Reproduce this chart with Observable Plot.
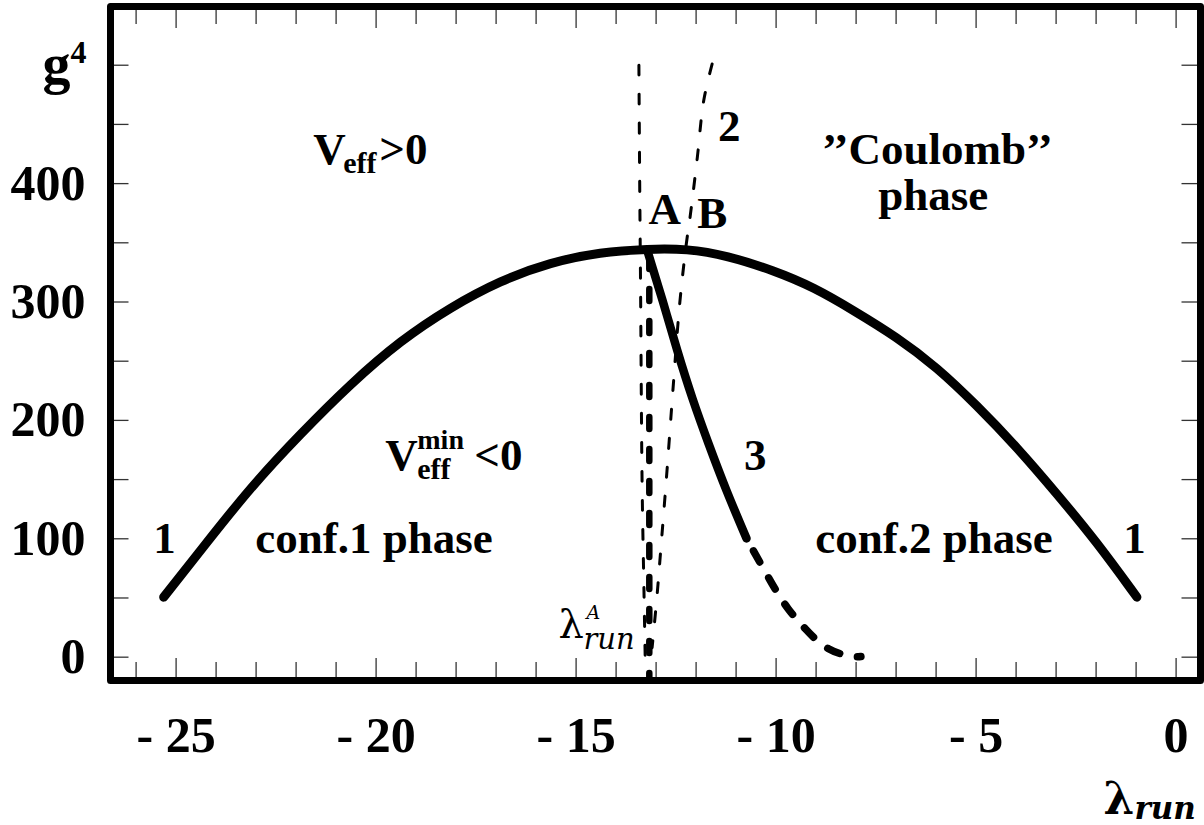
<!DOCTYPE html>
<html><head><meta charset="utf-8">
<script src="https://cdn.jsdelivr.net/npm/d3@7"></script>
<script src="https://cdn.jsdelivr.net/npm/@observablehq/plot@0.6"></script>
<style>
html,body{margin:0;padding:0;background:#fff;}
#chart svg{display:block;}
</style></head><body><div id="chart"></div>
<script>
// ---- data ----
// Curve 1: solid boundary (parabola-like)
const curve1X = [-25.31, -24.39, -23.14, -21.89, -20.64, -19.39, -18.14, -16.89, -15.64, -14.39, -13.19, -12.23, -11.23, -10.06, -9.06, -8.06, -6.98, -5.98, -4.98, -3.98, -2.98, -1.98, -0.98];
const curve1Y = [50.7, 90.1, 143.6, 188.7, 230.9, 267.5, 295.6, 318.2, 333.6, 342.1, 344.9, 345.0, 339.3, 326.6, 312.5, 292.8, 270.3, 244.9, 212.6, 177.4, 138.0, 97.1, 50.7];
// Curve 3: solid part and dashed continuation
const curve3X = [-13.22, -12.84, -12.47, -12.09, -11.69, -11.24, -10.74];
const curve3Y = [343.5, 301.4, 259.0, 218.5, 180.5, 140.8, 100.3];
const curve3dX = [-10.74, -10.10, -9.70, -9.27, -8.69, -8.10, -7.88];
const curve3dY = [100.3, 62.0, 41.0, 24.0, 7.1, 0.8, 0.5];
// Curve 2: thin dashed
const curve2X = [-11.60, -11.81, -11.97, -12.14, -12.25, -12.41, -12.58, -12.74, -12.89, -12.98, -13.10];
const curve2Y = [501, 470, 422, 374.5, 347.7, 298.5, 225.3, 152, 88, 50.7, 8];
// thin dashed near-vertical line through A
const lineAX = [-13.43, -13.41, -13.39, -13.35, -13.30, -13.27];
const lineAY = [500, 400, 320, 147, 50, -5];
// thick dashed vertical line lambda_run^A
const lamAX = [-13.17, -13.17];
const lamAY = [338, -19];

// ticks
const xMajor = [-25, -20, -15, -10, -5, 0];
const xTickLabels = ["- 25", "- 20", "- 15", "- 10", "- 5", "0"];
const xMinor = [-26, -24, -23, -22, -21, -19, -18, -17, -16, -14, -13, -12, -11, -9, -8, -7, -6, -4, -3, -2, -1];
const yTicks = [0, 50, 100, 150, 200, 250, 300, 350, 400, 450, 500];
const yLabelTicks = [0, 100, 200, 300, 400];

// in-plot annotations
const labelText   = ["1", "conf.1 phase", "conf.2 phase", "1", "3", "2", "A", "B", "’’Coulomb’’", "phase"];
const labelX      = [-25.29, -23.02, -9.02, -1.04, -10.52, -11.17, -13.19, -11.97, -5.97, -6.07];
const labelY      = [87.6, 87.6, 87.6, 87.6, 157.7, 436.4, 366.3, 362.1, 416.9, 377.3];
const labelAnchor = ["middle", "start", "start", "middle", "middle", "middle", "start", "start", "middle", "middle"];

const veffPos = {x: -21.57, y: 416.9};
const veffMinPos = {x: -19.77, y: 157.7};
const lamLabelPos = {x: -15.44, y: 16.6};

// ---- drawing ----
const W = 1204, H = 825, mL = 110, mR = 4, mT = 6, mB = 145;
const innerW = W - mL - mR, innerH = H - mT - mB;
const serif = "'Liberation Serif','Times New Roman',Times,serif";
const math = "'DejaVu Serif',serif";
const tickColor = "#333";
const pts = (xs, ys) => xs.map((x, i) => ({x, y: ys[i]}));
const labels = labelText.map((t, i) => ({t, x: labelX[i], y: labelY[i], a: labelAnchor[i]}));

function part(pos, txt, dx, dy, size, extra = {}) {
  return Plot.text([{...pos, t: txt}], {x: "x", y: "y", text: "t", dx, dy, fontSize: size,
    fontFamily: serif, fontWeight: "bold", textAnchor: "start", lineAnchor: "bottom", fill: "black", ...extra});
}
function framePart(anchor, txt, dx, dy, size, extra = {}) {
  return Plot.text([txt], {frameAnchor: anchor, dx, dy, fontSize: size, fontFamily: serif,
    fontWeight: "bold", textAnchor: "start", lineAnchor: "bottom", fill: "black", ...extra});
}

const plot = Plot.plot({
  width: W, height: H,
  marginLeft: mL, marginRight: mR, marginTop: mT, marginBottom: mB,
  x: {domain: [-26.64, 0.61]},
  y: {domain: [-19.7, 549.6]},
  style: {background: "white", overflow: "visible"},
  marks: [
    // inward ticks on the four sides
    Plot.ruleX(xMinor, {stroke: tickColor, strokeWidth: 1.3, insetTop: innerH - 18}),
    Plot.ruleX(xMajor, {stroke: tickColor, strokeWidth: 1.3, insetTop: innerH - 22}),
    Plot.ruleX(xMinor, {stroke: tickColor, strokeWidth: 1.3, insetBottom: innerH - 18}),
    Plot.ruleX(xMajor, {stroke: tickColor, strokeWidth: 1.3, insetBottom: innerH - 22}),
    Plot.ruleY(yTicks, {stroke: tickColor, strokeWidth: 1.3, insetRight: innerW - 18.5}),
    Plot.ruleY(yTicks, {stroke: tickColor, strokeWidth: 1.3, insetLeft: innerW - 18.5}),
    // curves
    Plot.line(pts(lineAX, lineAY), {x: "x", y: "y", curve: "catmull-rom", stroke: "black", strokeWidth: 3, strokeDasharray: "10,19", strokeLinecap: "round"}),
    Plot.line(pts(curve2X, curve2Y), {x: "x", y: "y", curve: "catmull-rom", stroke: "black", strokeWidth: 3, strokeDasharray: "10,19", strokeLinecap: "round"}),
    Plot.line(pts(lamAX, lamAY), {x: "x", y: "y", stroke: "black", strokeWidth: 6.5, strokeDasharray: "12,20", strokeLinecap: "round"}),
    Plot.line(pts(curve1X, curve1Y), {x: "x", y: "y", curve: "basis", stroke: "black", strokeWidth: 9, strokeLinecap: "round", strokeLinejoin: "round"}),
    Plot.line(pts(curve3X, curve3Y), {x: "x", y: "y", curve: "natural", stroke: "black", strokeWidth: 8.5, strokeLinecap: "round"}),
    Plot.line(pts(curve3dX, curve3dY), {x: "x", y: "y", curve: "natural", stroke: "black", strokeWidth: 7.5, strokeDasharray: "13,18", strokeDashoffset: -14, strokeLinecap: "round"}),
    // frame
    Plot.frame({stroke: "black", strokeWidth: 7, strokeLinejoin: "round"}),
    // tick labels
    Plot.axisX(xMajor, {anchor: "bottom", tickSize: 0, tickPadding: 36, label: null,
      tickFormat: d => xTickLabels[xMajor.indexOf(d)], fontSize: 50, fontWeight: "bold", fontFamily: serif, fill: "black"}),
    Plot.axisY(yLabelTicks, {anchor: "left", tickSize: 0, tickPadding: 25, label: null,
      tickFormat: d => String(d), fontSize: 50, fontWeight: "bold", fontFamily: serif, fill: "black"}),
    // annotations
    Plot.text(labels.filter(d => d.a === "start"), {x: "x", y: "y", text: "t", textAnchor: "start", lineAnchor: "bottom", fontSize: 45, fontWeight: "bold", fontFamily: serif, fill: "black"}),
    Plot.text(labels.filter(d => d.a === "middle"), {x: "x", y: "y", text: "t", textAnchor: "middle", lineAnchor: "bottom", fontSize: 45, fontWeight: "bold", fontFamily: serif, fill: "black"}),
    // V_eff > 0
    part(veffPos, "V", 0, 0, 45),
    part(veffPos, "eff", 30, 9, 30),
    part(veffPos, ">0", 66, 0, 45),
    // V_eff^min < 0
    part(veffMinPos, "V", 0, 0, 45),
    part(veffMinPos, "min", 32, -21, 28),
    part(veffMinPos, "eff", 32, 9, 30),
    part(veffMinPos, "<0", 89, 0, 45),
    // lambda_run^A
    part(lamLabelPos, "λ", 0, 0, 40, {fontFamily: math, fontWeight: "normal"}),
    part(lamLabelPos, "A", 28, -19, 19, {fontFamily: math, fontWeight: "normal", fontStyle: "italic"}),
    part(lamLabelPos, "run", 25, 11, 29, {fontFamily: math, fontWeight: "normal", fontStyle: "italic"}),
    // axis titles
    framePart("top-left", "g", -68, 76, 56),
    framePart("top-left", "4", -40, 56, 32),
    framePart("bottom-right", "λ", -97, 133, 44, {fontFamily: math}),
    framePart("bottom-right", "run", -66, 138, 31, {fontFamily: math, fontStyle: "italic"})
  ]
});
document.getElementById("chart").appendChild(plot);
</script>
</body></html>
